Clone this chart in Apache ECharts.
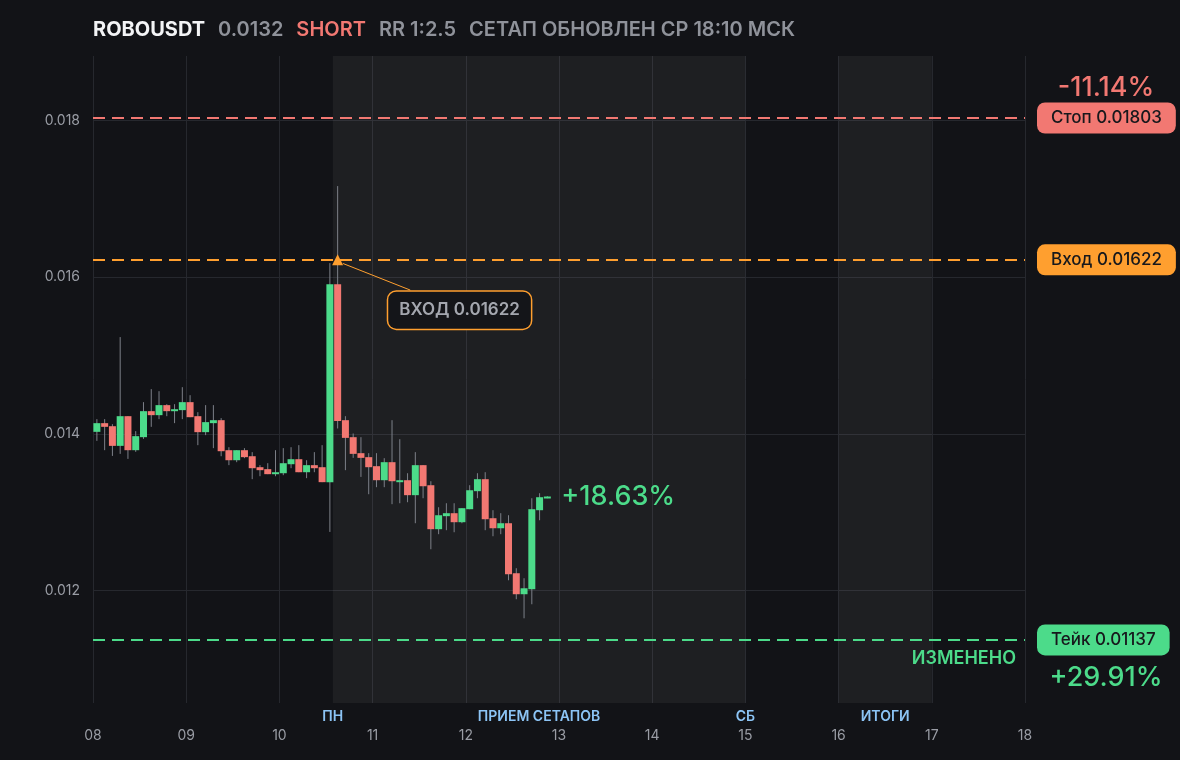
<!DOCTYPE html>
<html><head><meta charset="utf-8">
<script src="https://cdn.jsdelivr.net/npm/echarts@6.0.0/dist/echarts.min.js"></script>
<style>html,body{margin:0;padding:0;background:#121317}#c{width:1180px;height:760px}</style>
</head><body><div id="c"></div>
<script>
// ---- data ----
const startDay = 8;          // first candle day (x axis in days)
const candleHours = 2;       // 2h candles
const opens  = [0.014025,0.014136,0.014097,0.013846,0.014225,0.013791,0.013957,0.014289,0.014238,0.014366,
                0.014289,0.014302,0.014404,0.014225,0.014021,0.014136,0.014174,0.013791,0.013663,0.013791,
                0.013714,0.013574,0.013549,0.013485,0.013497,0.013612,0.013676,0.013510,0.013600,0.013574,
                0.013383,0.015910,0.014174,0.013957,0.013753,0.013702,0.013587,0.013408,0.013638,0.013383,
                0.013408,0.013217,0.013600,0.013344,0.012783,0.012949,0.012987,0.012872,0.013038,0.013268,
                0.013421,0.012923,0.012795,0.012859,0.012221,0.011953,0.012017,0.013025,0.013178];
const closes = [0.014136,0.014089,0.013846,0.014225,0.013791,0.013970,0.014289,0.014238,0.014366,0.014289,
                0.014314,0.014404,0.014212,0.014021,0.014149,0.014174,0.013778,0.013663,0.013791,0.013702,
                0.013561,0.013536,0.013485,0.013510,0.013625,0.013676,0.013510,0.013600,0.013561,0.013383,
                0.015910,0.014165,0.013948,0.013744,0.013693,0.013574,0.013408,0.013638,0.013395,0.013408,
                0.013217,0.013600,0.013331,0.012783,0.012961,0.012987,0.012872,0.013051,0.013280,0.013421,
                0.012910,0.012795,0.012859,0.012208,0.011953,0.012029,0.013038,0.013191,0.013200];
const lows   = [0.013910,0.013791,0.013718,0.013744,0.013680,0.013770,0.013935,0.014089,0.014187,0.014225,
                0.014136,0.014187,0.014212,0.013855,0.013983,0.013817,0.013714,0.013600,0.013638,0.013689,
                0.013421,0.013459,0.013485,0.013459,0.013472,0.013561,0.013510,0.013434,0.013510,0.013383,
                0.012748,0.014068,0.013536,0.013693,0.013450,0.013229,0.013319,0.013319,0.013102,0.013114,
                0.013127,0.012859,0.013178,0.012527,0.012719,0.012770,0.012744,0.012859,0.013038,0.013178,
                0.012770,0.012693,0.012719,0.012131,0.011889,0.011646,0.011825,0.012897,0.013178];
const highs  = [0.014187,0.014187,0.014123,0.015234,0.014225,0.014034,0.014404,0.014570,0.014544,0.014378,
                0.014378,0.014595,0.014493,0.014276,0.014366,0.014366,0.014200,0.013829,0.013791,0.013817,
                0.013766,0.013600,0.013625,0.013791,0.013817,0.013829,0.013855,0.013663,0.013766,0.013855,
                0.016178,0.017161,0.014225,0.014004,0.013957,0.013753,0.013753,0.013689,0.014174,0.013931,
                0.013497,0.013766,0.013600,0.013395,0.013063,0.013114,0.013114,0.013051,0.013344,0.013497,
                0.013510,0.013025,0.012987,0.012961,0.012285,0.012157,0.013178,0.013242,0.013204];

const xRange = [8, 18];
const yRange = [0.010565, 0.018821];
const stopPrice = 0.01803, entryPrice = 0.01622, takePrice = 0.01137;
const entryDay = 10.625;
const setupWindow = [10.573, 15];
const resultsWindow = [16, 17];
const sessionLabels = [
  {text: 'ПН', day: 10.573},
  {text: 'ПРИЕМ СЕТАПОВ', day: 12.786},
  {text: 'СБ', day: 15},
  {text: 'ИТОГИ', day: 16.5}
];
const titleParts = {symbol: 'ROBOUSDT', price: '0.0132', side: 'SHORT', rr: 'RR 1:2.5', updated: 'СЕТАП ОБНОВЛЕН СР 18:10 МСК'};
const stopPct = '-11.14%', takePct = '+29.91%', currentPct = '+18.63%';
const entryNote = {text: 'ВХОД 0.01622', day: 11.933, price: 0.015578, lineFrom: [10.681, 0.016174], lineTo: [11.404, 0.015834]};

// ---- build ----
const GREEN = '#4cdb8a', RED = '#f27872', ORANGE = '#ff9f2f', BLUE = '#8cc4f5';
const FONT = 'Inter';
const candles = opens.map((o, i) => [startDay + (i * candleHours + candleHours / 2) / 24, o, closes[i], lows[i], highs[i]]);
const last = candles[candles.length - 1];

const badge = (text, bg) => ({
  show: true, position: 'end', distance: 12, formatter: text,
  backgroundColor: bg, color: '#17181c', fontFamily: FONT, fontSize: 17, fontWeight: 500,
  padding: [7, 14, 7, 14], borderRadius: 8, lineHeight: 17
});
const dash = c => ({color: c, type: [12, 7], width: 2});
const bigPct = (c) => ({fontFamily: FONT, fontSize: 27, fontWeight: 500, color: c});

const chart = echarts.init(document.getElementById('c'));
chart.setOption({
  animation: false,
  backgroundColor: '#121317',
  title: {
    left: 93, top: 20, padding: 0,
    text: `{w|${titleParts.symbol}}{g|${titleParts.price}}{r|${titleParts.side}}{g|${titleParts.rr}}{e|${titleParts.updated}}`,
    textStyle: {
      fontFamily: FONT, fontSize: 20,
      rich: {
        w: {fontFamily: FONT, fontSize: 20, fontWeight: 700, color: '#f3f4f6', padding: [0, 13, 0, 0]},
        g: {fontFamily: FONT, fontSize: 20, fontWeight: 600, color: '#8f929a', padding: [0, 13, 0, 0]},
        r: {fontFamily: FONT, fontSize: 20, fontWeight: 600, color: RED, padding: [0, 13, 0, 0]},
        e: {fontFamily: FONT, fontSize: 20, fontWeight: 600, color: '#8f929a'}
      }
    }
  },
  grid: {left: 93, right: 155, top: 56, bottom: 57},
  xAxis: {
    type: 'value', min: xRange[0], max: xRange[1], interval: 1,
    axisLine: {show: false}, axisTick: {show: false},
    axisLabel: {color: '#9a9da5', fontFamily: FONT, fontSize: 14, margin: 26,
      formatter: v => String(v).padStart(2, '0')},
    splitLine: {show: true, lineStyle: {color: '#26282e', width: 1}}
  },
  yAxis: {
    type: 'value', min: yRange[0], max: yRange[1], splitNumber: 5, scale: true,
    axisLine: {show: false}, axisTick: {show: false},
    axisLabel: {color: '#9a9da5', fontFamily: FONT, fontSize: 14, margin: 13, showMinLabel: false, showMaxLabel: false},
    splitLine: {show: true, showMinLine: false, showMaxLine: false, lineStyle: {color: '#26282e', width: 1}}
  },
  series: [
    {
      type: 'line', data: [], z: 1, silent: true,
      markArea: {
        silent: true,
        itemStyle: {color: 'rgba(255,255,255,0.05)'},
        label: {show: false},
        data: [
          [{xAxis: setupWindow[0]}, {xAxis: setupWindow[1]}],
          [{xAxis: resultsWindow[0]}, {xAxis: resultsWindow[1]}]
        ]
      }
    },
    {
      type: 'custom', z: 3, silent: true,
      data: candles,
      encode: {x: 0, y: [1, 2, 3, 4]},
      renderItem: (params, api) => {
        const x = api.value(0), o = api.value(1), c = api.value(2), l = api.value(3), h = api.value(4);
        const pO = api.coord([x, o]), pC = api.coord([x, c]), pL = api.coord([x, l]), pH = api.coord([x, h]);
        const w = 7;
        const top = Math.min(pO[1], pC[1]);
        const hgt = Math.max(Math.abs(pO[1] - pC[1]), 2);
        return {
          type: 'group',
          children: [
            {type: 'line', shape: {x1: pL[0], y1: pL[1], x2: pH[0], y2: pH[1]}, style: {stroke: '#7d8089', lineWidth: 1}},
            {type: 'rect', shape: {x: pO[0] - w / 2, y: top, width: w, height: hgt}, style: {fill: c >= o ? GREEN : RED}}
          ]
        };
      }
    },
    {
      type: 'line', data: [], z: 4, silent: true,
      markLine: {
        silent: true, symbol: 'none', precision: 6,
        data: [
          {yAxis: stopPrice, lineStyle: dash(RED), label: badge('Стоп ' + stopPrice.toFixed(5), RED)},
          {yAxis: entryPrice, lineStyle: dash(ORANGE), label: badge('Вход ' + entryPrice.toFixed(5), ORANGE)},
          {yAxis: takePrice, lineStyle: dash(GREEN), label: badge('Тейк ' + takePrice.toFixed(5), GREEN)},
          [{coord: entryNote.lineFrom, lineStyle: {color: ORANGE, type: 'solid', width: 1}, label: {show: false}},
           {coord: entryNote.lineTo}]
        ]
      },
      markPoint: {
        silent: true,
        data: [
          {coord: [entryDay, entryPrice], symbol: 'triangle', symbolSize: [11, 11], itemStyle: {color: ORANGE}, label: {show: false}},
          {coord: [entryNote.day, entryNote.price], symbol: 'rect', symbolSize: 0,
            label: {show: true, position: 'inside', formatter: entryNote.text, color: '#a4a7af', fontFamily: FONT,
              fontSize: 17, fontWeight: 600, backgroundColor: '#141519', borderColor: ORANGE, borderWidth: 1.5,
              borderRadius: 8, padding: [10, 11, 10, 11], lineHeight: 17}},
          {coord: [last[0], last[2]], symbol: 'rect', symbolSize: 0,
            label: Object.assign({show: true, position: 'right', distance: 14, formatter: currentPct}, bigPct(GREEN))},
          {coord: [xRange[1], stopPrice], symbol: 'rect', symbolSize: 0,
            label: Object.assign({show: true, position: 'inside', offset: [81, -30], formatter: stopPct}, bigPct(RED))},
          {coord: [xRange[1], takePrice], symbol: 'rect', symbolSize: 0,
            label: Object.assign({show: true, position: 'inside', offset: [81, 38], formatter: takePct}, bigPct(GREEN))},
          {coord: [xRange[1], takePrice], symbol: 'rect', symbolSize: 0,
            label: {show: true, position: 'left', distance: 9, offset: [0, 19], formatter: 'ИЗМЕНЕНО',
              color: GREEN, fontFamily: FONT, fontSize: 18, fontWeight: 600}},
          ...sessionLabels.map(s => ({coord: [s.day, yRange[0]], symbol: 'rect', symbolSize: 0,
            label: {show: true, position: 'inside', offset: [0, 14], formatter: s.text,
              color: BLUE, fontFamily: FONT, fontSize: 14, fontWeight: 600}}))
        ]
      }
    }
  ]
});
</script></body></html>
